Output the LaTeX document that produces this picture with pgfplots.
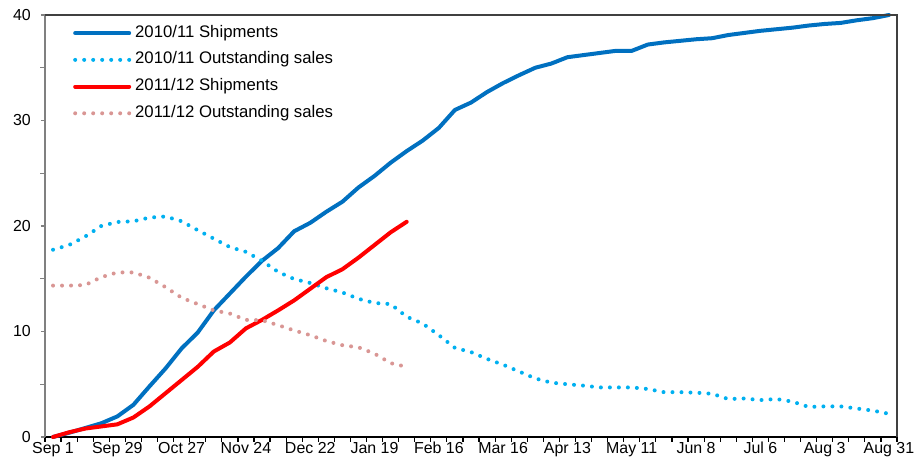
\documentclass[border=0pt]{standalone}
\usepackage{fontspec}
\setmainfont{Liberation Sans}
\usepackage{pgfplots}
\pgfplotsset{compat=1.18}
\definecolor{shipA}{HTML}{0070C0}
\definecolor{outA}{HTML}{00B0F0}
\definecolor{shipB}{HTML}{FF0000}
\definecolor{outB}{HTML}{D99694}
\begin{document}
\begin{tikzpicture}
\path[use as bounding box] (0,0) rectangle (917bp,458bp);
\begin{axis}[
  at={(45bp,21bp)}, anchor=south west,
  scale only axis, width=852bp, height=422bp,
  xmin=-0.5, xmax=52.5, ymin=0, ymax=40,
  clip=false,
  axis lines*=left,
  x axis line style={black, line width=2bp},
  y axis line style={black!50, line width=2bp},
  tick align=outside,
  major tick length=4bp, minor tick length=4.5bp,
  xtick={0,4,...,52},
  xticklabels={Sep 1, Sep 29, Oct 27, Nov 24, Dec 22, Jan 19, Feb 16, Mar 16, Apr 13, May 11, Jun 8, Jul 6, Aug 3, Aug 31},
  minor xtick={-0.5,0.5,...,52.5},
  x tick style={black, line width=1.2bp},
  major x tick style={draw=none},
  ytick={0,10,...,40},
  minor ytick={5,15,25,35},
  y tick style={black!50, line width=1.2bp},
  /pgf/number format/assume math mode=true,
  tick label style={font=\fontsize{16}{19}\selectfont, inner sep=0pt},
  xticklabel style={yshift=-1bp},
  yticklabel style={xshift=-10bp},
  legend style={at={(25bp,413bp)}, anchor=north west, draw=none, fill=none,
    font=\fontsize{16.8}{19}\selectfont, row sep=12.7bp,
    nodes={inner sep=0pt, text height=11bp, text depth=3bp, anchor=west}},
  legend cell align=left,
  legend image code/.code={\draw[#1] (0bp,0bp) -- (54bp,0bp); \path (58bp,0bp);},
  solidline/.style={line width=4bp, line join=round, line cap=round},
  dotline/.style={line width=4bp, line cap=round, dash pattern=on 0bp off 9bp},
]
\addplot[shipA, solidline] coordinates {
(0,0) (1,0.4) (2,0.85) (3,1.3) (4,1.95) (5,3.05) (6,4.8) (7,6.5) (8,8.4) (9,9.9)
(10,12.0) (11,13.6) (12,15.2) (13,16.7) (14,17.9) (15,19.5) (16,20.3) (17,21.35) (18,22.3) (19,23.65)
(20,24.75) (21,26.0) (22,27.1) (23,28.1) (24,29.3) (25,31.0) (26,31.7) (27,32.7) (28,33.55) (29,34.3)
(30,35.0) (31,35.4) (32,36.0) (33,36.2) (34,36.4) (35,36.6) (36,36.6) (37,37.2) (38,37.4) (39,37.55)
(40,37.7) (41,37.8) (42,38.1) (43,38.3) (44,38.5) (45,38.65) (46,38.8) (47,39.0) (48,39.15) (49,39.25)
(50,39.5) (51,39.7) (52,40.0)};
\addlegendentry{2010/11 Shipments}
\addplot[outA, dotline] coordinates {
(0,17.75) (1,18.2) (2,19.0) (3,20.0) (4,20.38) (5,20.45) (6,20.8) (7,20.9) (8,20.45) (9,19.6)
(10,18.8) (11,18.0) (12,17.55) (13,16.7) (14,15.65) (15,14.97) (16,14.6) (17,14.1) (18,13.7) (19,13.1)
(20,12.7) (21,12.6) (22,11.4) (23,10.75) (24,9.65) (25,8.45) (26,8.05) (27,7.4) (28,6.85) (29,6.2)
(30,5.55) (31,5.15) (32,5.0) (33,4.87) (34,4.7) (35,4.7) (36,4.7) (37,4.55) (38,4.25) (39,4.25)
(40,4.2) (41,4.1) (42,3.6) (43,3.65) (44,3.5) (45,3.6) (46,3.35) (47,2.85) (48,2.9) (49,2.9)
(50,2.7) (51,2.5) (52,2.2)};
\addlegendentry{2010/11 Outstanding sales}
\addplot[shipB, solidline] coordinates {
(0,0) (1,0.45) (2,0.8) (3,1.0) (4,1.2) (5,1.85) (6,2.9) (7,4.15) (8,5.4) (9,6.65)
(10,8.1) (11,8.96) (12,10.3) (13,11.1) (14,12.0) (15,12.95) (16,14.05) (17,15.15) (18,15.9) (19,17.0)
(20,18.2) (21,19.4) (22,20.4)};
\addlegendentry{2011/12 Shipments}
\addplot[outB, dotline] coordinates {
(0,14.35) (1,14.35) (2,14.4) (3,15.15) (4,15.6) (5,15.6) (6,15.1) (7,14.2) (8,13.2) (9,12.6)
(10,12.0) (11,11.7) (12,11.1) (13,11.07) (14,10.6) (15,10.1) (16,9.65) (17,9.1) (18,8.7) (19,8.5)
(20,7.9) (21,7.0) (22,6.65)};
\addlegendentry{2011/12 Outstanding sales}
\draw[black!75, line width=1.5bp] (rel axis cs:0,1) -- (rel axis cs:1,1) -- (rel axis cs:1,0);
\end{axis}
\end{tikzpicture}
\end{document}
